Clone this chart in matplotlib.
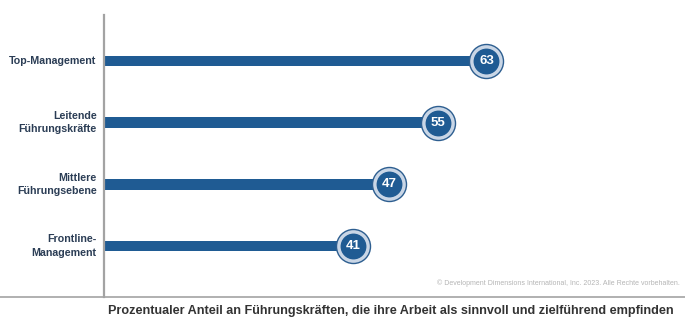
import matplotlib
matplotlib.use("Agg")
import matplotlib.pyplot as plt
from matplotlib.lines import Line2D

plt.rcParams['font.family'] = ['Liberation Sans', 'DejaVu Sans']

# Daten
labels = ["Top-Management", "Leitende\nFührungskräfte", "Mittlere\nFührungsebene", "Frontline-\nManagement"]
values = [63, 55, 47, 41]
positions = [3, 2, 1, 0]

bar_color = "#1f5b93"
text_color = "#2b3d55"

fig = plt.figure(figsize=(6.85, 3.27), dpi=100)
ax = fig.add_axes([104 / 685, 30 / 327, 581 / 685, 282 / 327])

ax.barh(positions, values, height=0.175, color=bar_color, zorder=2)
ax.scatter(values, positions, s=600, color="#c9d6e6", edgecolors="#2d5e90", linewidths=1.0, zorder=3)
ax.scatter(values, positions, s=310, color=bar_color, zorder=4)
for v, p in zip(values, positions):
    ax.text(v, p, str(v), color="white", fontsize=9.5, fontweight="bold",
            ha="center", va="center", zorder=5)

ax.set_xlim(0, 95.7)
ax.set_ylim(-0.827, 3.746)
ax.set_xticks([])
ax.set_yticks([])
for s in ["top", "right", "bottom"]:
    ax.spines[s].set_visible(False)
ax.spines["left"].set_color("#a3a3a3")
ax.spines["left"].set_linewidth(1.6)

for lab, p in zip(labels, positions):
    ax.text(-1.2, p, lab, ha="right", va="center", fontsize=7.7, fontweight="bold",
            color=text_color, linespacing=1.45)

# Grundlinie über die ganze Breite
fig.add_artist(Line2D([0, 1], [30 / 327, 30 / 327], color="#a3a3a3", linewidth=1.2))

fig.text(680 / 685, 1 - 283 / 327, "© Development Dimensions International, Inc. 2023. Alle Rechte vorbehalten.",
         ha="right", va="center", fontsize=5.0, color="#b5b5b5")
fig.text(391 / 685, 1 - 311 / 327,
         "Prozentualer Anteil an Führungskräften, die ihre Arbeit als sinnvoll und zielführend empfinden",
         ha="center", va="center", fontsize=9.1, fontweight="bold", color="#333333")

fig.savefig("out.png", dpi=100)
